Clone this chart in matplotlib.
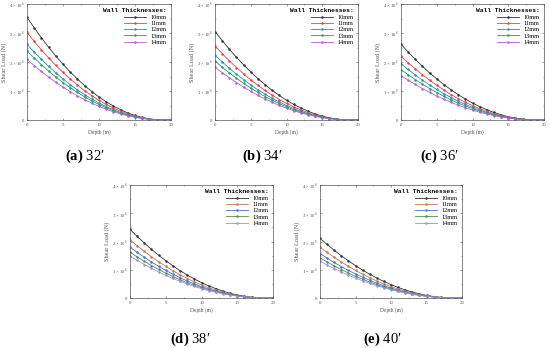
import numpy as np
import matplotlib.pyplot as plt
from matplotlib.ticker import MultipleLocator, FixedLocator

plt.rcParams['font.family'] = ['Liberation Serif', 'DejaVu Serif']
plt.rcParams['mathtext.fontset'] = 'custom'
plt.rcParams['mathtext.rm'] = 'Liberation Serif'
plt.rcParams['mathtext.bf'] = 'Liberation Serif:bold'

# depth points (m) and normalised load profile
depth = np.arange(0, 21, 1)
profile = [1.0, 0.898, 0.801, 0.709, 0.623, 0.543, 0.468, 0.399, 0.335, 0.277,
           0.224, 0.177, 0.136, 0.100, 0.069, 0.044, 0.025, 0.011, 0.003, 0.0, 0.0]

thicknesses = ['10mm', '11mm', '12mm', '13mm', '14mm']
captions = ['a', 'b', 'c', 'd', 'e']
angles = ["32\u2032", "34\u2032", "36\u2032", "38\u2032", "40\u2032"]

# shear load at depth 0 for each wall thickness (x 1e6 N)
start_a = [3.54, 3.02, 2.61, 2.38, 2.09]
start_b = [3.05, 2.55, 2.23, 2.03, 1.82]
start_c = [2.61, 2.20, 1.94, 1.74, 1.53]
start_d = [2.43, 2.06, 1.80, 1.62, 1.48]
start_e = [2.11, 1.80, 1.57, 1.42, 1.30]
starts = [start_a, start_b, start_c, start_d, start_e]

colors_top = ['#333333', '#e8424a', '#2a8fbd', '#1fa55a', '#b05fd6']
colors_bot = ['#333333', '#c0785a', '#4a6fd8', '#4f8f4f', '#9a8fe0']

fig = plt.figure(figsize=(5.5, 3.48), dpi=100)

W, H = 550.0, 348.0
boxes = [(27, 4, 144, 116), (215, 4, 143, 116), (401, 4, 143, 116),
         (130, 185, 143, 113), (320, 185, 142, 113)]
cap_pos = [(85, 156), (262, 156), (439, 156), (190, 339), (382, 339)]

for i in range(5):
    x0, y0, w, h = boxes[i]
    ax = fig.add_axes([x0 / W, 1 - (y0 + h) / H, w / W, h / H])
    cols = colors_top if i < 3 else colors_bot
    for j, t in enumerate(thicknesses):
        load = np.array(profile) * starts[i][j] * 1e6
        ax.plot(depth, load, color=cols[j], lw=0.6, marker='.', ms=1.6, label=t)
    ax.set_xlim(0, 20)
    ax.set_ylim(0, 4e6)
    ax.xaxis.set_major_locator(MultipleLocator(5))
    ax.xaxis.set_minor_locator(MultipleLocator(2.5))
    ax.yaxis.set_major_locator(FixedLocator([0, 1e6, 2e6, 3e6, 4e6]))
    ax.yaxis.set_minor_locator(MultipleLocator(0.5e6))
    ax.set_yticklabels(['0', r'$1\times10^6$', r'$2\times10^6$', r'$3\times10^6$', r'$4\times10^6$'])
    ax.tick_params(which='both', direction='in', top=True, right=True,
                   labelsize=3.5, length=1.5, width=0.4, pad=2, colors='#555555')
    ax.tick_params(which='minor', length=0.8)
    for s in ax.spines.values():
        s.set_linewidth(0.5)
        s.set_color('#555555')
    ax.set_xlabel('Depth (m)', fontsize=4, color='#555555', labelpad=2)
    ax.set_ylabel('Shear Load (N)', fontsize=4.5, color='#555555', labelpad=1)
    leg = ax.legend(title='Wall Thicknesses:', loc='upper right', frameon=False,
                    handlelength=3.5, labelspacing=0.15, borderaxespad=0.3,
                    alignment='right', prop={'family': 'Liberation Serif', 'size': 4.5})
    leg.get_title().set_fontweight('bold')
    leg.get_title().set_family('Liberation Mono')
    leg.get_title().set_fontsize(4.5)
    cx, cy = cap_pos[i]
    fig.text(cx / W, 1 - cy / H, r'$\mathbf{(' + captions[i] + ')}$ ' + angles[i],
             ha='center', va='center', fontsize=10.5)

fig.savefig('out.png', dpi=100)
